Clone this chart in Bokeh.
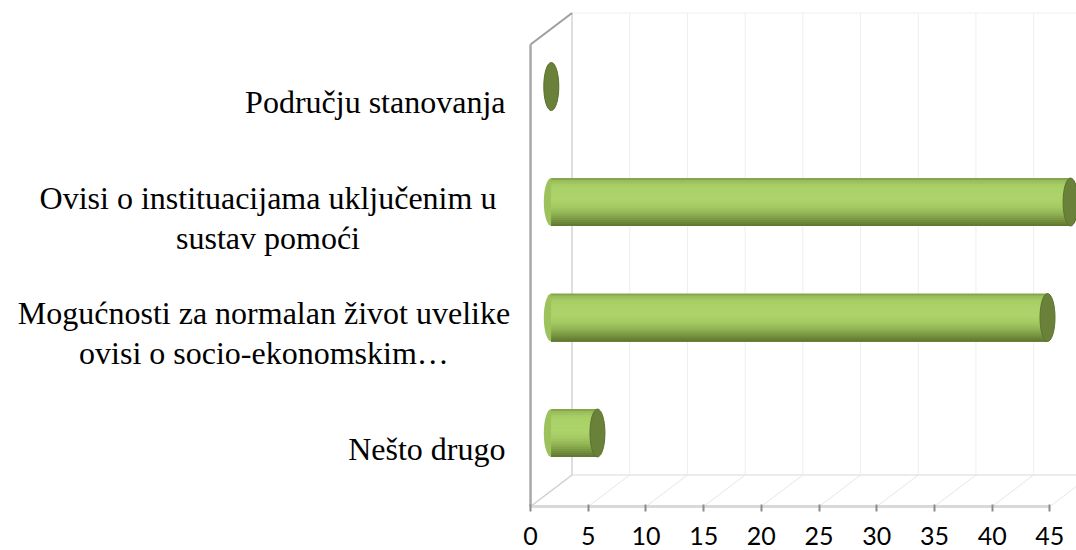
from bokeh.plotting import figure
from bokeh.models import FixedTicker, Range1d, ColumnDataSource
from bokeh.embed import file_html
from bokeh.resources import INLINE

# ---- data (bottom to top) ----
categories = ["Nešto drugo",
              "Mogućnosti za normalan život uvelike ovisi o socio-ekonomskim…",
              "Ovisi o instituacijama uključenim u sustav pomoći",
              "Području stanovanja"]
tick_labels = ["Nešto drugo",
               "Mogućnosti za normalan život uvelike\novisi o socio-ekonomskim…",
               "Ovisi o instituacijama uključenim u\nsustav pomoći",
               "Području stanovanja"]
values = [4, 43, 45, 0]
x_ticks = [0, 5, 10, 15, 20, 25, 30, 35, 40, 45]

# ---- geometry / style ----
PX_X = 11.54          # px per value unit
PX_Y = 115.5          # px per category slot
DX = 41.5 / PX_X      # 3-D depth offset (x)
DY = 31.5 / PX_Y      # 3-D depth offset (y)
BAR_H = 48 / PX_Y
CAP_W = 15 / PX_X
X_START, X_END = -45.93, 47.31
Y_START, Y_END = -0.381, 4.381
label_x = [-2.17, -23.1, -22.75, -2.17]          # label anchor (value units)
label_align = ["right", "center", "center", "right"]

pos = [i + 0.5 for i in range(len(categories))]
n_slots = len(categories)

p = figure(width=1076, height=550, output_backend="svg", toolbar_location=None,
           x_range=Range1d(X_START, X_END), y_range=Range1d(Y_START, Y_END),
           min_border_left=0, min_border_right=0, min_border_top=0, min_border_bottom=0)
p.outline_line_color = None
p.background_fill_color = "white"
p.border_fill_color = "white"
p.xgrid.visible = False
p.ygrid.visible = False
p.yaxis.visible = False

# back wall gridlines
bx = [v + DX for v in x_ticks[1:]]
p.segment(x0=bx, y0=[DY] * len(bx), x1=bx, y1=[n_slots + DY] * len(bx),
          line_color="#eeeeee", line_width=1)
# back wall top edge
p.segment(x0=[DX], y0=[n_slots + DY], x1=[X_END], y1=[n_slots + DY],
          line_color="#f0f0f0", line_width=1)
# floor diagonals
p.segment(x0=x_ticks[1:], y0=[0] * (len(x_ticks) - 1),
          x1=[v + DX for v in x_ticks[1:]], y1=[DY] * (len(x_ticks) - 1),
          line_color="#e6e6e6", line_width=1)
# floor back edge
p.segment(x0=[DX], y0=[DY], x1=[X_END], y1=[DY], line_color="#e6e6e6", line_width=1.5)
# left wall
p.segment(x0=[DX], y0=[DY], x1=[DX], y1=[n_slots + DY], line_color="#d4d4d4", line_width=1.5)
p.segment(x0=[0], y0=[0], x1=[DX], y1=[DY], line_color="#cfcfcf", line_width=1.5)
p.segment(x0=[0], y0=[n_slots], x1=[DX], y1=[n_slots + DY], line_color="#9e9e9e", line_width=2)
p.segment(x0=[0], y0=[0], x1=[0], y1=[n_slots], line_color="#a8a8a8", line_width=2.5)
# floor front edge
p.segment(x0=[x_ticks[0]], y0=[0], x1=[x_ticks[-1]], y1=[0], line_color="#d9d9d9", line_width=3)

# ---- cylinders ----
yc = [y + DY / 2 for y in pos]
left = [DX / 2] * len(values)
right = [v + DX / 2 for v in values]
src = ColumnDataSource(dict(y=yc, left=left, right=right))

p.ellipse(x="left", y="y", width=CAP_W, height=BAR_H, source=src,
          fill_color="#9dc25b", line_color=None)

# vertical shading of the cylinder (top -> bottom colour stops)
stops = [(0.00, (0x7d, 0x9a, 0x45)), (0.06, (0x98, 0xbd, 0x5b)), (0.16, (0xa9, 0xcf, 0x67)),
         (0.45, (0xad, 0xd3, 0x6b)), (0.60, (0xa5, 0xca, 0x63)), (0.75, (0x8f, 0xb2, 0x53)),
         (0.88, (0x76, 0x93, 0x3f)), (1.00, (0x5c, 0x76, 0x31))]


def shade(f):
    for (a, ca), (b, cb) in zip(stops[:-1], stops[1:]):
        if a <= f <= b:
            t = (f - a) / (b - a)
            c = [round(ca[k] + (cb[k] - ca[k]) * t) for k in range(3)]
            return "#%02x%02x%02x" % tuple(c)
    return "#5c7631"


# nested bands: each band covers from its top down to the bottom of the cylinder
NB = 24
bottom_y = [v - BAR_H / 2 for v in yc]
for k in range(NB):
    f0 = k / NB
    top_y = [v + BAR_H / 2 - BAR_H * f0 for v in yc]
    p.quad(left=left, right=right, top=top_y, bottom=bottom_y,
           fill_color=shade(f0 + 0.5 / NB), line_color=None)

p.ellipse(x="right", y="y", width=CAP_W, height=BAR_H, source=src,
          fill_color="#6a813a", line_color="#5b7230", line_width=1)

# ---- category labels ----
lab_src = ColumnDataSource(dict(x=label_x, y=pos, text=tick_labels, align=label_align))
p.text(x="x", y="y", text="text", source=lab_src, text_align="align",
       text_baseline="middle", text_font="Liberation Serif",
       text_font_size="32px", text_color="#000000", text_line_height=1.1)

# ---- value axis ----
xa = p.xaxis[0]
xa.fixed_location = 0
xa.ticker = FixedTicker(ticks=x_ticks)
xa.axis_line_color = None
xa.major_tick_in = 2
xa.major_tick_out = 5
xa.major_tick_line_color = "#8c8c8c"
xa.major_tick_line_width = 2
xa.minor_tick_line_color = None
xa.major_label_standoff = 16
xa.major_label_text_font = "Lato"
xa.major_label_text_font_size = "25px"
xa.major_label_text_color = "#000000"

open("out.html", "w").write(file_html(p, INLINE))
